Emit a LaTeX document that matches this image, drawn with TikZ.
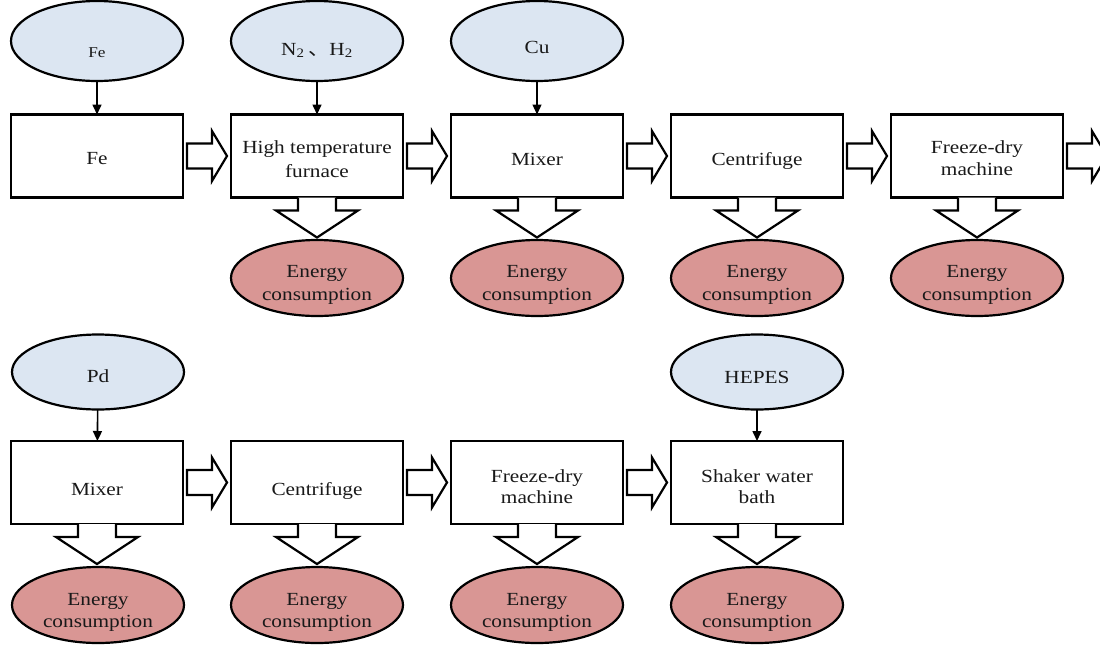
\documentclass[tikz,border=0pt]{standalone}
\usepackage{fontspec}
\usepackage{graphicx}
\setmainfont{Liberation Serif}
\newfontfamily\cjkfont{Noto Sans CJK SC}
\usetikzlibrary{arrows.meta,shapes.geometric,calc}
\definecolor{inblue}{HTML}{DCE6F2}
\definecolor{enred}{HTML}{D99694}
\newcommand{\sx}[1]{\scalebox{1.15}[1]{#1}}
\newcommand{\txt}[3]{\node[lbl,anchor=base] at (#1,#2) {\sx{#3}};}
\newcommand{\harrow}[1]{\draw[blk] ($(#1.east)+(4,0)$) ++(0,-12.5) -- ++(25,0) -- ++(0,-12.5) -- ++(15,25) -- ++(-15,25) -- ++(0,-12.5) -- ++(-25,0) -- cycle;}
\newcommand{\darrow}[1]{\draw[blk] (#1.south) ++(-19,0) -- ++(0,13) -- ++(-22,0) -- ++(41,27) -- ++(41,-27) -- ++(-22,0) -- ++(0,-13);}
\begin{document}
\begin{tikzpicture}[x=1pt,y=-1pt,
 every node/.style={inner sep=0pt, outer sep=0pt},
 inputel/.style={ellipse, draw, line width=2.2pt, fill=inblue, minimum width=172pt, minimum height=80pt},
 energyel/.style={ellipse, draw, line width=2.2pt, fill=enred, minimum width=172pt, minimum height=76pt},
 procbox/.style={rectangle, draw, line width=2.2pt, fill=white, minimum width=172pt, minimum height=83pt},
 lbl/.style={font=\fontsize{18.5}{23}\selectfont, text=black!90},
 feed/.style={line width=1.6pt, -{Triangle[length=10pt,width=9pt]}},
 blk/.style={draw, line width=2.2pt, fill=white, line join=miter},
]
\useasboundingbox (0,0) rectangle (1100,646);
\clip (0,0) rectangle (1100,646);
\fill[white] (0,0) rectangle (1100,646);

% ---------- Row 1 ----------
\node[inputel] (i1) at (97,41) {};
\node[inputel] (i2) at (317,41) {};
\node[inputel] (i3) at (537,41) {};

\node[procbox] (a1) at (97,156) {};
\node[procbox] (a2) at (317,156) {};
\node[procbox] (a3) at (537,156) {};
\node[procbox] (a4) at (757,156) {};
\node[procbox] (a5) at (977,156) {};

\node[energyel] (e2) at (317,278) {};
\node[energyel] (e3) at (537,278) {};
\node[energyel] (e4) at (757,278) {};
\node[energyel] (e5) at (977,278) {};

\draw[feed] (i1) -- (a1);
\draw[feed] (i2) -- (a2);
\draw[feed, line width=1.2pt] (i3) -- (a3);

\harrow{a1}
\harrow{a2}
\harrow{a3}
\harrow{a4}
\harrow{a5}
\darrow{a2}
\darrow{a3}
\darrow{a4}
\darrow{a5}

% ---------- Row 2 ----------
\node[inputel, minimum height=75pt] (j1) at (98,372) {};
\node[inputel, minimum height=75pt] (j4) at (757,372) {};

\node[procbox] (b1) at (97,482.5) {};
\node[procbox] (b2) at (317,482.5) {};
\node[procbox] (b3) at (537,482.5) {};
\node[procbox] (b4) at (757,482.5) {};

\node[energyel] (f1) at (98,605) {};
\node[energyel] (f2) at (317,605) {};
\node[energyel] (f3) at (537,605) {};
\node[energyel] (f4) at (757,605) {};

\draw[feed] (j1) -- (b1);
\draw[feed] (j4) -- (b4);

\harrow{b1}
\harrow{b2}
\harrow{b3}
\darrow{b1}
\darrow{b2}
\darrow{b3}
\darrow{b4}

% ---------- Texts ----------
\node[lbl, font=\fontsize{15}{18}\selectfont, anchor=base] at (97,57) {\sx{Fe}};
\txt{317}{55}{N\textsubscript{2}\,{\cjkfont 、}H\textsubscript{2}}
\txt{537}{53}{Cu}

\txt{97}{164}{Fe}
\txt{317}{153}{High temperature}
\txt{317}{177}{furnace}
\txt{537}{165}{Mixer}
\txt{757}{165}{Centrifuge}
\txt{977}{153}{Freeze-dry}
\txt{977}{175}{machine}

\foreach \x in {317,537,757,977}{
  \txt{\x}{277}{Energy}
  \txt{\x}{300}{consumption}
}

\txt{98}{382}{Pd}
\txt{757}{383}{HEPES}

\txt{97}{495}{Mixer}
\txt{317}{495}{Centrifuge}
\txt{537}{482}{Freeze-dry}
\txt{537}{503}{machine}
\txt{757}{482}{Shaker water}
\txt{757}{503}{bath}

\foreach \x in {98,317,537,757}{
  \txt{\x}{605}{Energy}
  \txt{\x}{627}{consumption}
}
\end{tikzpicture}
\end{document}
